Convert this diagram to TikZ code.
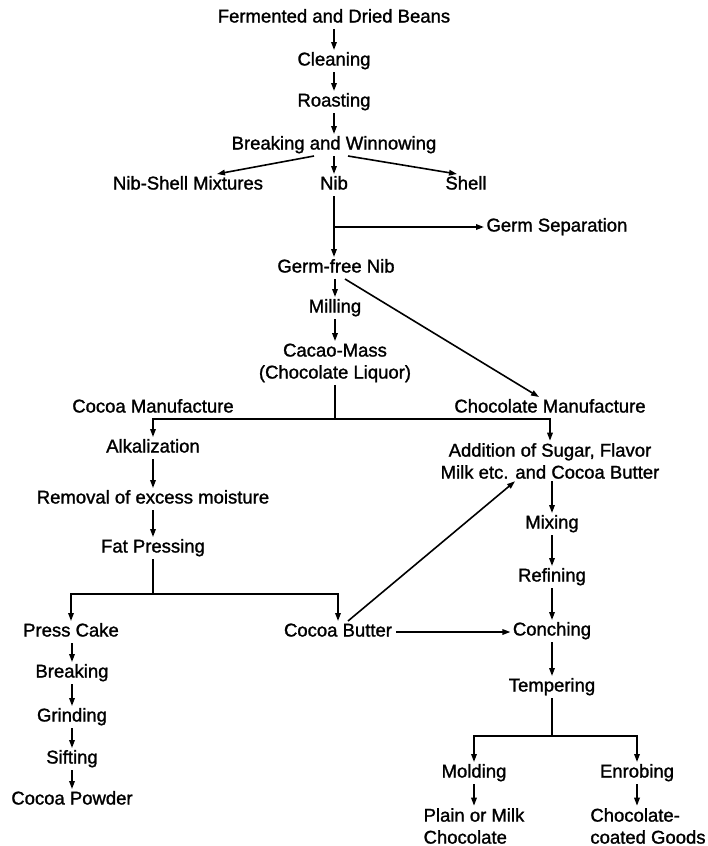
\documentclass[tikz,border=0pt]{standalone}
\usepackage{fontspec}
\setmainfont{Liberation Sans}[FakeBold=1.3]
\usetikzlibrary{arrows.meta}
\begin{document}
\begin{tikzpicture}[x=1pt,y=-1pt,
  lbl/.style={inner sep=0pt, outer sep=2.5pt, text height=13pt, text depth=4pt, font=\fontsize{18.5}{22}\selectfont},
  lbltwo/.style={inner sep=0pt, outer sep=2.5pt, align=center, font=\fontsize{18.5}{22}\selectfont},
  lblleft/.style={inner sep=0pt, outer sep=2.5pt, align=left, font=\fontsize{18.5}{22}\selectfont},
  flow/.style={line width=1.6pt, -{Triangle[length=8pt,width=5.5pt]}},
  ln/.style={line width=1.6pt}]
\useasboundingbox[fill=white] (0,0) rectangle (708,846);

% main column
\node[lbl] (fer) at (334,18) {Fermented and Dried Beans};
\node[lbl] (cle) at (334,61) {Cleaning};
\node[lbl] (roa) at (334,102) {Roasting};
\node[lbl] (brk) at (334,145) {Breaking and Winnowing};
\node[lbl] (nsm) at (188,185) {Nib-Shell Mixtures};
\node[lbl] (nib) at (334,185) {Nib};
\node[lbl] (shl) at (466,185) {Shell};
\node[lbl, anchor=west] (gsep) at (484,227) {Germ Separation};
\node[lbl] (gfn) at (336,268) {Germ-free Nib};
\node[lbl] (mil) at (335,308) {Milling};
\node[lbltwo] (cac) at (335,363) {Cacao-Mass\\(Chocolate Liquor)};
\node[lbl] (cocm) at (153,408) {Cocoa Manufacture};
\node[lbl] (chom) at (550,408) {Chocolate Manufacture};

% cocoa branch
\node[lbl] (alk) at (153,448) {Alkalization};
\node[lbl] (rem) at (153,499) {Removal of excess moisture};
\node[lbl] (fat) at (153,548) {Fat Pressing};
\node[lbl] (pc) at (71,632) {Press Cake};
\node[lbl] (cb) at (338,632) {Cocoa Butter};
\node[lbl] (brk2) at (72,673) {Breaking};
\node[lbl] (gri) at (72,717) {Grinding};
\node[lbl] (sif) at (72,759) {Sifting};
\node[lbl] (cpw) at (72,800) {Cocoa Powder};

% chocolate branch
\node[lbltwo] (add) at (550,461) {Addition of Sugar, Flavor\\Milk etc. and Cocoa Butter};
\node[lbl] (mix) at (552,524) {Mixing};
\node[lbl] (ref) at (552,577) {Refining};
\node[lbl] (con) at (552,631) {Conching};
\node[lbl] (tem) at (552,687) {Tempering};
\node[lbl] (mol) at (474,773) {Molding};
\node[lbl] (enr) at (637,773) {Enrobing};
\node[lblleft] (pmc) at (474,826) {Plain or Milk\\Chocolate};
\node[lblleft] (ccg) at (648,826) {Chocolate-\\coated Goods};

% junction points
\coordinate (gj) at (nib |- gsep);
\coordinate (b1) at (335,419);
\coordinate (b2) at (153,594);
\coordinate (b3) at (552,736);

% connectors top
\draw[flow] (fer) -- (cle);
\draw[flow] (cle) -- (roa);
\draw[flow] (roa) -- (brk);
\draw[flow] ([xshift=-20pt]brk.south) -- ([xshift=29pt]nsm.north);
\draw[flow] (brk) -- (nib);
\draw[flow] ([xshift=14pt]brk.south) -- ([xshift=-9pt]shl.north);
\draw[flow] (nib.south) -- (nib.south |- gfn.north);
\draw[flow] (gj) -- (gsep.west);
\draw[flow] (gfn.south -| mil) -- (mil);
\draw[flow] (mil) -- (cac);
\draw[flow] ([xshift=9pt]gfn.south) -- ([xshift=-11pt]chom.north);
\draw[ln] (cac.south) -- (b1);
\draw[flow] (b1) -| (alk.north);
\draw[flow] (b1) -| (add.north);

% cocoa
\draw[flow] (alk) -- (rem);
\draw[flow] (rem) -- (fat);
\draw[ln] (fat) -- (b2);
\draw[flow] (b2) -| (pc.north);
\draw[flow] (b2) -| (cb.north);
\draw[flow] (pc.south -| brk2) -- (brk2);
\draw[flow] (brk2) -- (gri);
\draw[flow] (gri) -- (sif);
\draw[flow] (sif) -- (cpw);

% chocolate
\draw[flow] ([xshift=2pt]cb.east) -- (cb.east -| con.west);
\draw[flow] ([xshift=10pt]cb.north) -- ([xshift=-35pt]add.south);
\draw[flow] (add.south -| mix) -- (mix);
\draw[flow] (mix) -- (ref);
\draw[flow] (ref) -- (con);
\draw[flow] (con) -- (tem);
\draw[ln] (tem) -- (b3);
\draw[flow] (b3) -| (mol.north);
\draw[flow] (b3) -| (enr.north);
\draw[flow] (mol) -- (mol |- pmc.north);
\draw[flow] (enr) -- (enr |- ccg.north);
\end{tikzpicture}
\end{document}
